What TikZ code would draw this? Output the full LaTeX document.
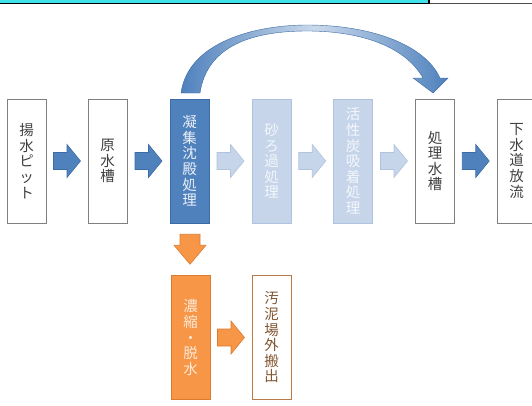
\documentclass[tikz,border=0pt]{standalone}
\usepackage{fontspec}
\newfontfamily\cjk{Noto Sans CJK JP}
\usetikzlibrary{calc}
\definecolor{obl}{HTML}{4F81BD}
\definecolor{oblD}{HTML}{3B6CA5}
\definecolor{lbl}{HTML}{C6D5EA}
\definecolor{lblD}{HTML}{AFC3DF}
\definecolor{ora}{HTML}{F79646}
\definecolor{oraD}{HTML}{DB7B30}
\definecolor{brn}{HTML}{B97A45}
\definecolor{cyanbar}{HTML}{41E1EA}
\tikzset{
  box/.style={draw=black!50, line width=0.8pt, minimum width=39pt, minimum height=124pt,
    inner sep=0pt, align=center, text=black!75, font=\cjk\fontsize{14.5}{15.6}\selectfont},
  bluebox/.style={box, fill=obl, draw=oblD, text=white!88!obl},
  lightbox/.style={box, fill=lbl, draw=lblD, text=white!80!lbl},
  orabox/.style={box, fill=ora, draw=oraD, text=white!80!ora},
  brnbox/.style={box, draw=brn, text=brn!70!black},
  rarrow/.pic={\filldraw[line width=0.6pt, pic actions] (-13.5,-8.5) -- (0,-8.5) -- (0,-16.5) -- (13.5,0) -- (0,16.5) -- (0,8.5) -- (-13.5,8.5) -- cycle;},
  darrow/.pic={\filldraw[line width=0.6pt, pic actions] (-10,-15) -- (10,-15) -- (10,-4) -- (16,-4) -- (0,15) -- (-16,-4) -- (-10,-4) -- cycle;},
  darkarr/.style={fill=obl, draw=oblD},
  lightarr/.style={fill=lbl, draw=lblD},
  oraarr/.style={fill=ora, draw=oraD},
}
\begin{document}
\begin{tikzpicture}[x=1pt, y=-1pt]
\useasboundingbox (0,0) rectangle (532,405);
% top bar
\fill[cyanbar] (0,0) rectangle (429,3);
\draw[line width=1.4pt, black] (0,3.6) -- (429,3.6) -- (429,0);
\draw[line width=1.2pt, black!70] (430,3.6) -- (532,3.6);
% boxes
\node[box] (b1) at (26.5,161) {揚\\水\\ピ\\ッ\\ト};
\node[box] (b2) at (107.5,161) {原\\水\\槽};
\node[bluebox] (b3) at (189.5,161) {凝\\集\\沈\\殿\\処\\理};
\node[lightbox] (b4) at (271.5,161) {砂\\ろ\\過\\処\\理};
\node[lightbox] (b5) at (353,161) {活\\性\\炭\\吸\\着\\処\\理};
\node[box] (b6) at (435,161) {処\\理\\水\\槽};
\node[box] (b7) at (516.5,161) {下\\水\\道\\放\\流};
\node[orabox] (c1) at (190.5,337.5) {濃\\縮\\・\\脱\\水};
\node[brnbox] (c2) at (271.5,337.5) {汚\\泥\\場\\外\\搬\\出};
% block arrows
\pic[darkarr] at ($(b1.east)!0.5!(b2.west)$) {rarrow};
\pic[darkarr] at ($(b2.east)!0.5!(b3.west)$) {rarrow};
\pic[lightarr] at ($(b3.east)!0.5!(b4.west)$) {rarrow};
\pic[lightarr] at ($(b4.east)!0.5!(b5.west)$) {rarrow};
\pic[lightarr] at ($(b5.east)!0.5!(b6.west)$) {rarrow};
\pic[darkarr] at ($(b6.east)!0.5!(b7.west)$) {rarrow};
\pic[oraarr] at ($(b3.south)!0.5!(c1.north)$) {darrow};
\pic[oraarr] at ($(c1.east)!0.5!(c2.west)$) {rarrow};
% curved arrow
\path[left color=obl, right color=obl, middle color=obl!30, draw=oblD, line width=0.4pt]
  (181,93) .. controls (188,42) and (255,25) .. (307,25)
  .. controls (372,25) and (425,45) .. (440,78)
  -- (448,78) -- (433,93) -- (413,78) -- (423,78)
  .. controls (405,46) and (360,31) .. (307,31)
  .. controls (252,31) and (207,46) .. (200,93) -- cycle;
\end{tikzpicture}
\end{document}
